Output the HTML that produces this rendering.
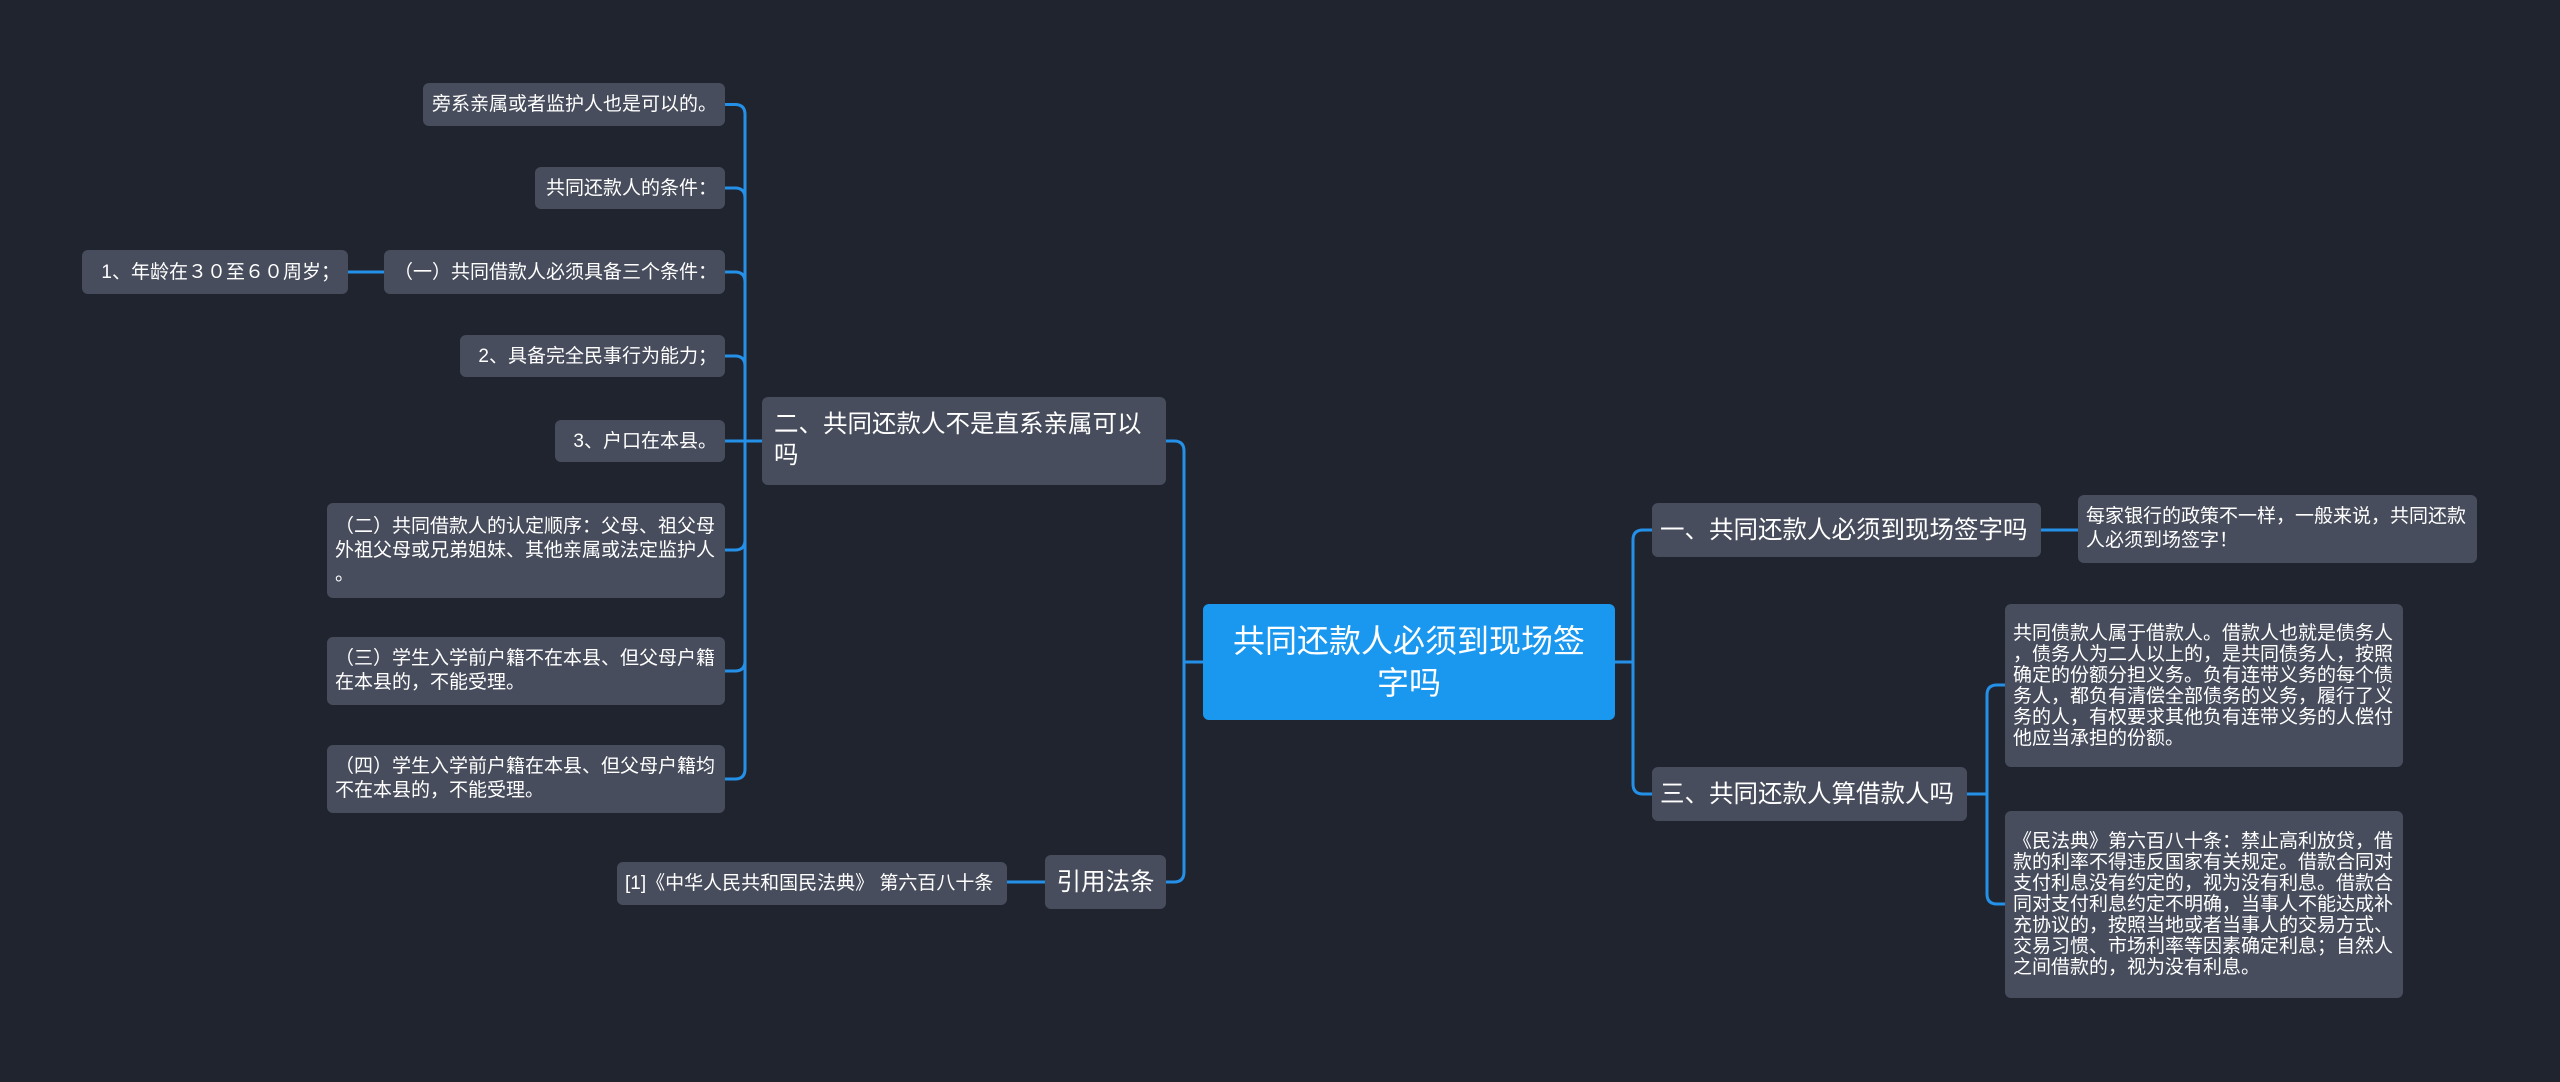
<!DOCTYPE html>
<html><head><meta charset="utf-8"><style>
body{margin:0;width:2560px;height:1082px;background:#20242f;position:relative;overflow:hidden;font-family:"Liberation Sans","Noto Sans CJK SC",sans-serif;}
.n{position:absolute;background:#474d5c;color:#fff;border-radius:6px;box-sizing:border-box;display:flex;align-items:center;white-space:nowrap;font-size:19px;line-height:21px;padding:0 8px;}
.r{justify-content:flex-end;}
.m{font-size:24.5px;line-height:31px;}
svg{position:absolute;left:0;top:0;}
</style></head><body>
<svg width="2560" height="1082" fill="none" stroke="#2490e8" stroke-width="3">
<path d="M762 441H745V114.5Q745 104.5 735 104.5H725"/>
<path d="M762 441H745V198Q745 188 735 188H725"/>
<path d="M762 441H745V282Q745 272 735 272H725"/>
<path d="M762 441H745V366Q745 356 735 356H725"/>
<path d="M762 441H725"/>
<path d="M762 441H745V540Q745 550 735 550H725"/>
<path d="M762 441H745V661Q745 671 735 671H725"/>
<path d="M762 441H745V769Q745 779 735 779H725"/>
<path d="M384 272H348"/>
<path d="M1203 662H1184V451Q1184 441 1174 441H1166"/>
<path d="M1203 662H1184V872Q1184 882 1174 882H1166"/>
<path d="M1007 882H1045"/>
<path d="M1615 662H1633V540Q1633 530 1643 530H1652"/>
<path d="M1615 662H1633V784Q1633 794 1643 794H1652"/>
<path d="M2041 530H2078"/>
<path d="M1967 794H1987V695Q1987 685 1997 685H2005"/>
<path d="M1967 794H1987V894Q1987 904 1997 904H2005"/>
</svg>
<div class="n" style="left:1203px;top:604px;width:412px;height:116px;background:#1a98f0;font-size:32px;line-height:42px;justify-content:center;text-align:center;white-space:normal;padding:0 10px;">共同还款人必须到现场签<br>字吗</div>
<div class="n m" style="left:762px;top:397px;width:404px;height:88px;align-items:flex-start;padding-top:12px;padding-left:12px;">二、共同还款人不是直系亲属可以<br>吗</div>
<div class="n m" style="left:1045px;top:855px;width:121px;height:54px;justify-content:center;">引用法条</div>
<div class="n m" style="left:1652px;top:503px;width:389px;height:54px;">一、共同还款人必须到现场签字吗</div>
<div class="n m" style="left:1652px;top:767px;width:315px;height:54px;">三、共同还款人算借款人吗</div>
<div class="n" style="left:2078px;top:495px;width:399px;height:68px;line-height:24px;">每家银行的政策不一样，一般来说，共同还款<br>人必须到场签字！</div>
<div class="n" style="left:2005px;top:604px;width:398px;height:163px;">共同债款人属于借款人。借款人也就是债务人<br>，债务人为二人以上的，是共同债务人，按照<br>确定的份额分担义务。负有连带义务的每个债<br>务人，都负有清偿全部债务的义务，履行了义<br>务的人，有权要求其他负有连带义务的人偿付<br>他应当承担的份额。</div>
<div class="n" style="left:2005px;top:811px;width:398px;height:187px;">《民法典》第六百八十条：禁止高利放贷，借<br>款的利率不得违反国家有关规定。借款合同对<br>支付利息没有约定的，视为没有利息。借款合<br>同对支付利息约定不明确，当事人不能达成补<br>充协议的，按照当地或者当事人的交易方式、<br>交易习惯、市场利率等因素确定利息；自然人<br>之间借款的，视为没有利息。</div>
<div class="n r" style="left:423px;top:83px;width:302px;height:43px;">旁系亲属或者监护人也是可以的。</div>
<div class="n r" style="left:535px;top:167px;width:190px;height:42px;">共同还款人的条件：</div>
<div class="n r" style="left:384px;top:250px;width:341px;height:44px;">（一）共同借款人必须具备三个条件：</div>
<div class="n r" style="left:82px;top:250px;width:266px;height:44px;">1、年龄在３０至６０周岁；</div>
<div class="n r" style="left:460px;top:335px;width:265px;height:42px;">2、具备完全民事行为能力；</div>
<div class="n r" style="left:555px;top:420px;width:170px;height:42px;">3、户口在本县。</div>
<div class="n" style="left:327px;top:503px;width:398px;height:95px;line-height:24px;">（二）共同借款人的认定顺序：父母、祖父母<br>外祖父母或兄弟姐妹、其他亲属或法定监护人<br>。</div>
<div class="n" style="left:327px;top:637px;width:398px;height:68px;line-height:24px;">（三）学生入学前户籍不在本县、但父母户籍<br>在本县的，不能受理。</div>
<div class="n" style="left:327px;top:745px;width:398px;height:68px;line-height:24px;">（四）学生入学前户籍在本县、但父母户籍均<br>不在本县的，不能受理。</div>
<div class="n" style="left:617px;top:862px;width:390px;height:43px;">[1]《中华人民共和国民法典》 第六百八十条</div>
</body></html>
